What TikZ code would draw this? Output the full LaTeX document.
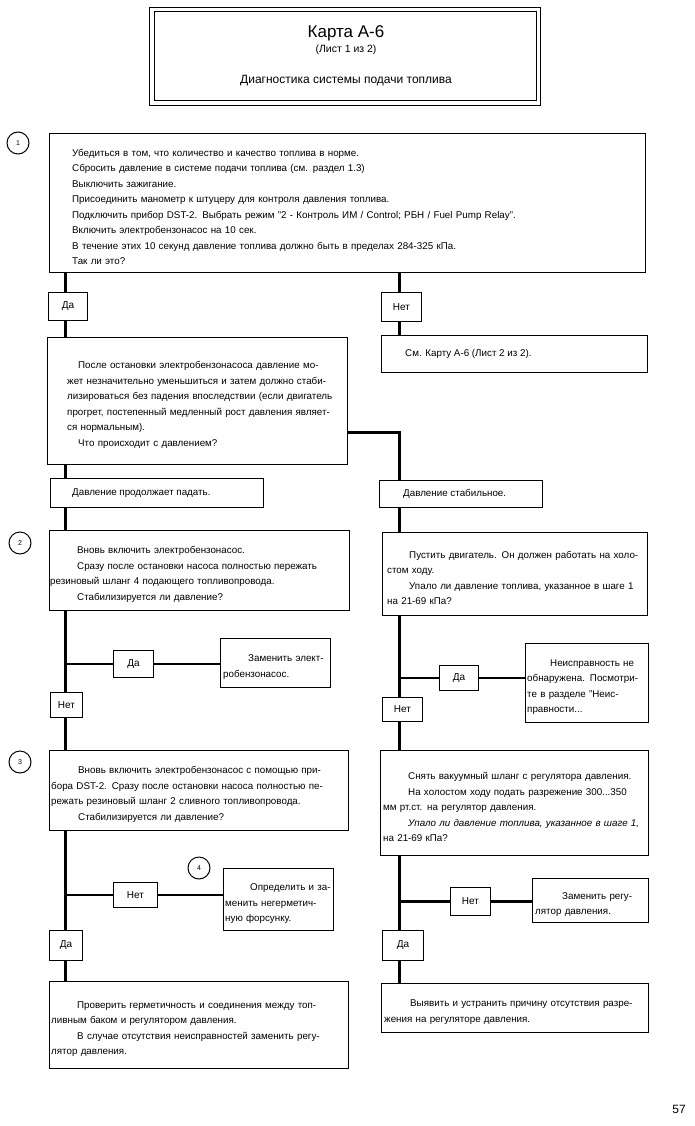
\documentclass[tikz,border=0pt]{standalone}
\usepackage{fontspec}
\setmainfont{Liberation Sans}
\newcommand\JL[2][0pt]{\par\noindent\hbox to\linewidth{\kern#1\relax #2}}
\newcommand\PL[2][0pt]{\par\noindent\hbox{\kern#1\relax #2}}
\newcommand\bodyfont{\fontsize{9.8}{15.5}\selectfont}
\begin{document}
\begin{tikzpicture}[x=1pt,y=-1pt,
  box/.style={draw, line width=0.9pt, inner sep=0pt, anchor=north west},
  lbl/.style={box, font=\fontsize{10}{12}\selectfont},
  trunk/.style={line width=3pt},
  branch/.style={line width=2.4pt},
  num/.style={circle, draw, line width=1pt, minimum size=22pt, inner sep=0pt, font=\fontsize{7}{8}\selectfont},
  txt/.style={inner sep=0pt, anchor=west, font=\bodyfont}]
\fill[white] (0,0) rectangle (695,1126);
\useasboundingbox (0,0) rectangle (695,1126);
% title
\node[box, line width=1.3pt, minimum width=391pt, minimum height=98pt] (title) at (149,7) {};
\node[box, minimum width=382pt, minimum height=89pt] (titlein) at (153.5,11.5) {};
\node[inner sep=0pt, font=\fontsize{17}{20}\selectfont] (t1) at (346,33) {Карта А-6};
\node[inner sep=0pt, font=\fontsize{10.5}{12}\selectfont] (t2) at (346,50) {(Лист 1 из 2)};
\node[inner sep=0pt, font=\fontsize{12}{14}\selectfont] (t3) at (346,81) {Диагностика системы подачи топлива};
% trunks
\coordinate (L) at (65,0);
\coordinate (R) at (399,0);
\coordinate (J) at (0,432);
% step 1
\node[num] (n1) at (18,143) {1};
\node[box, minimum width=596pt, minimum height=139pt] (box1) at (49,133) {};
\node[txt, text width=560pt] (box1t) at ([xshift=23pt]box1.west) {%
\PL{Убедиться в том, что количество и качество топлива в норме.}
\PL{Сбросить давление в системе подачи топлива (см. раздел 1.3)}
\PL{Выключить зажигание.}
\PL{Присоединить манометр к штуцеру для контроля давления топлива.}
\PL{Подключить прибор DST-2. Выбрать режим "2 - Контроль ИМ / Control; РБН / Fuel Pump Relay".}
\PL{Включить электробензонасос на 10 сек.}
\PL{В течение этих 10 секунд давление топлива должно быть в пределах 284-325 кПа.}
\PL{Так ли это?}};
\node[lbl, minimum width=39pt, minimum height=28pt] (da1) at (48,292) {Да};
\node[lbl, minimum width=40pt, minimum height=29pt] (net1) at (381,292) {Нет};
\node[box, minimum width=266pt, minimum height=37pt] (smk) at (381,335) {};
\node[txt] (smkt) at ([xshift=24pt]smk.west) {См. Карту А-6 (Лист 2 из 2).};
\node[box, minimum width=300pt, minimum height=127pt] (box2) at (47,337) {};
\node[txt, text width=265pt] (box2t) at ([xshift=20pt]box2.west) {%
\JL[11pt]{После остановки электробензонасоса давление мо-}
\JL{жет незначительно уменьшиться и затем должно стаби-}
\JL{лизироваться без падения впоследствии (если двигатель}
\JL{прогрет, постепенный медленный рост давления являет-}
\PL{ся нормальным).}
\PL[11pt]{Что происходит с давлением?}};
\node[box, minimum width=213pt, minimum height=29pt] (dpad) at (50,478) {};
\node[txt] (dpadt) at ([xshift=22pt]dpad.west) {Давление продолжает падать.};
\node[box, minimum width=163pt, minimum height=27pt] (dstab) at (379,480) {};
\node[txt] (dstabt) at ([xshift=24pt]dstab.west) {Давление стабильное.};
% step 2
\node[num] (n2) at (20,543) {2};
\node[box, minimum width=300pt, minimum height=80pt] (s2l) at (49,530) {};
\node[txt, text width=283pt] (s2lt) at ([xshift=1pt]s2l.west) {%
\PL[27pt]{Вновь включить электробензонасос.}
\JL[27pt]{Сразу после остановки насоса полностью пережать}
\PL{резиновый шланг 4 подающего топливопровода.}
\PL[27pt]{Стабилизируется ли давление?}};
\node[box, minimum width=265pt, minimum height=83pt] (s2r) at (382,532) {};
\node[txt, text width=252pt] (s2rt) at ([xshift=5pt]s2r.west) {%
\JL[22pt]{Пустить двигатель. Он должен работать на холо-}
\PL{стом ходу.}
\JL[22pt]{Упало ли давление топлива, указанное в шаге 1}
\PL{на 21-69 кПа?}};
\node[lbl, minimum width=40pt, minimum height=27pt] (da2l) at (113,650) {Да};
\node[box, minimum width=110pt, minimum height=49pt] (zam1) at (220,638) {};
\node[txt, text width=105pt] (zam1t) at ([xshift=3pt]zam1.west) {%
\JL[25pt]{Заменить элект-}
\PL{робензонасос.}};
\node[lbl, minimum width=32pt, minimum height=25pt] (net2l) at (50,692) {Нет};
\node[lbl, minimum width=39pt, minimum height=25pt] (da2r) at (439,665) {Да};
\node[box, minimum width=123pt, minimum height=79pt] (neis) at (525,643) {};
\node[txt, text width=116pt] (neist) at ([xshift=2pt]neis.west) {%
\JL[23pt]{Неисправность не}
\JL{обнаружена. Посмотри-}
\JL{те в разделе "Неис-}
\PL{правности...}};
\node[lbl, minimum width=40pt, minimum height=24pt] (net2r) at (382,697) {Нет};
% step 3
\node[num] (n3) at (20,762) {3};
\node[box, minimum width=299pt, minimum height=80pt] (s3l) at (49,750) {};
\node[txt, text width=287pt] (s3lt) at ([xshift=2pt]s3l.west) {%
\JL[27pt]{Вновь включить электробензонасос с помощью при-}
\JL{бора DST-2. Сразу после остановки насоса полностью пе-}
\PL{режать резиновый шланг 2 сливного топливопровода.}
\PL[27pt]{Стабилизируется ли давление?}};
\node[box, minimum width=268pt, minimum height=105pt] (s3r) at (380,750) {};
\node[txt, text width=256pt] (s3rt) at ([xshift=3pt]s3r.west) {%
\PL[25pt]{Снять вакуумный шланг с регулятора давления.}
\JL[25pt]{На холостом ходу подать разрежение 300...350}
\PL{мм рт.ст. на регулятор давления.}
\JL[25pt]{\itshape Упало ли давление топлива, указанное в шаге 1,}
\PL{на 21-69 кПа?}};
\node[lbl, minimum width=44pt, minimum height=25pt] (net3l) at (113,882) {Нет};
\node[num] (n4) at (199,868) {4};
\node[box, minimum width=110pt, minimum height=62pt] (opr) at (223,868) {};
\node[txt, text width=105pt] (oprt) at ([xshift=2pt]opr.west) {%
\JL[25pt]{Определить и за-}
\JL{менить негерметич-}
\PL{ную форсунку.}};
\node[lbl, minimum width=40pt, minimum height=28pt] (net3r) at (450,887) {Нет};
\node[box, minimum width=116pt, minimum height=44pt] (zamreg) at (532,878) {};
\node[txt, text width=104pt] (zamregt) at ([xshift=3pt]zamreg.west) {%
\JL[27pt]{Заменить регу-}
\PL{лятор давления.}};
\node[lbl, minimum width=33pt, minimum height=30pt] (da3l) at (49,930) {Да};
\node[lbl, minimum width=41pt, minimum height=30pt] (da3r) at (382,930) {Да};
% final
\node[box, minimum width=299pt, minimum height=87pt] (b4l) at (49,981) {};
\node[txt, text width=287pt] (b4lt) at ([xshift=2pt]b4l.west) {%
\JL[26pt]{Проверить герметичность и соединения между топ-}
\PL{ливным баком и регулятором давления.}
\JL[26pt]{В случае отсутствия неисправностей заменить регу-}
\PL{лятор давления.}};
\node[box, minimum width=267pt, minimum height=49pt] (b4r) at (381,983) {};
\node[txt, text width=257pt] (b4rt) at ([xshift=3pt]b4r.west) {%
\JL[26pt]{Выявить и устранить причину отсутствия разре-}
\PL{жения на регуляторе давления.}};
\node[inner sep=0pt, font=\fontsize{12}{14}\selectfont] (page) at (679,1109) {57};
% connectors left
\draw[trunk] (box1.south -| L) -- (da1.north -| L);
\draw[trunk] (da1.south -| L) -- (box2.north -| L);
\draw[trunk] (box2.south -| L) -- (dpad.north -| L);
\draw[trunk] (dpad.south -| L) -- (s2l.north -| L);
\draw[trunk] (s2l.south -| L) -- (net2l.north -| L);
\draw[trunk] (net2l.south -| L) -- (s3l.north -| L);
\draw[trunk] (s3l.south -| L) -- (da3l.north -| L);
\draw[trunk] (da3l.south -| L) -- (b4l.north -| L);
\draw[branch] (da2l.west -| L) -- (da2l.west);
\draw[branch] (da2l.east) -- (zam1.west |- da2l.east);
\draw[branch] (net3l.west -| L) -- (net3l.west);
\draw[branch] (net3l.east) -- (opr.west |- net3l.east);
% connectors right
\draw[trunk] (box1.south -| R) -- (net1.north -| R);
\draw[trunk] (net1.south -| R) -- (smk.north -| R);
\draw[trunk] (box2.east |- J) -| (dstab.north -| R);
\draw[trunk] (dstab.south -| R) -- (s2r.north -| R);
\draw[trunk] (s2r.south -| R) -- (net2r.north -| R);
\draw[trunk] (net2r.south -| R) -- (s3r.north -| R);
\draw[trunk] (s3r.south -| R) -- (da3r.north -| R);
\draw[trunk] (da3r.south -| R) -- (b4r.north -| R);
\draw[branch] (da2r.west -| R) -- (da2r.west);
\draw[branch] (da2r.east) -- (neis.west |- da2r.east);
\draw[branch] (net3r.west -| R) -- (net3r.west);
\draw[branch] (net3r.east) -- (zamreg.west |- net3r.east);
\end{tikzpicture}
\end{document}
